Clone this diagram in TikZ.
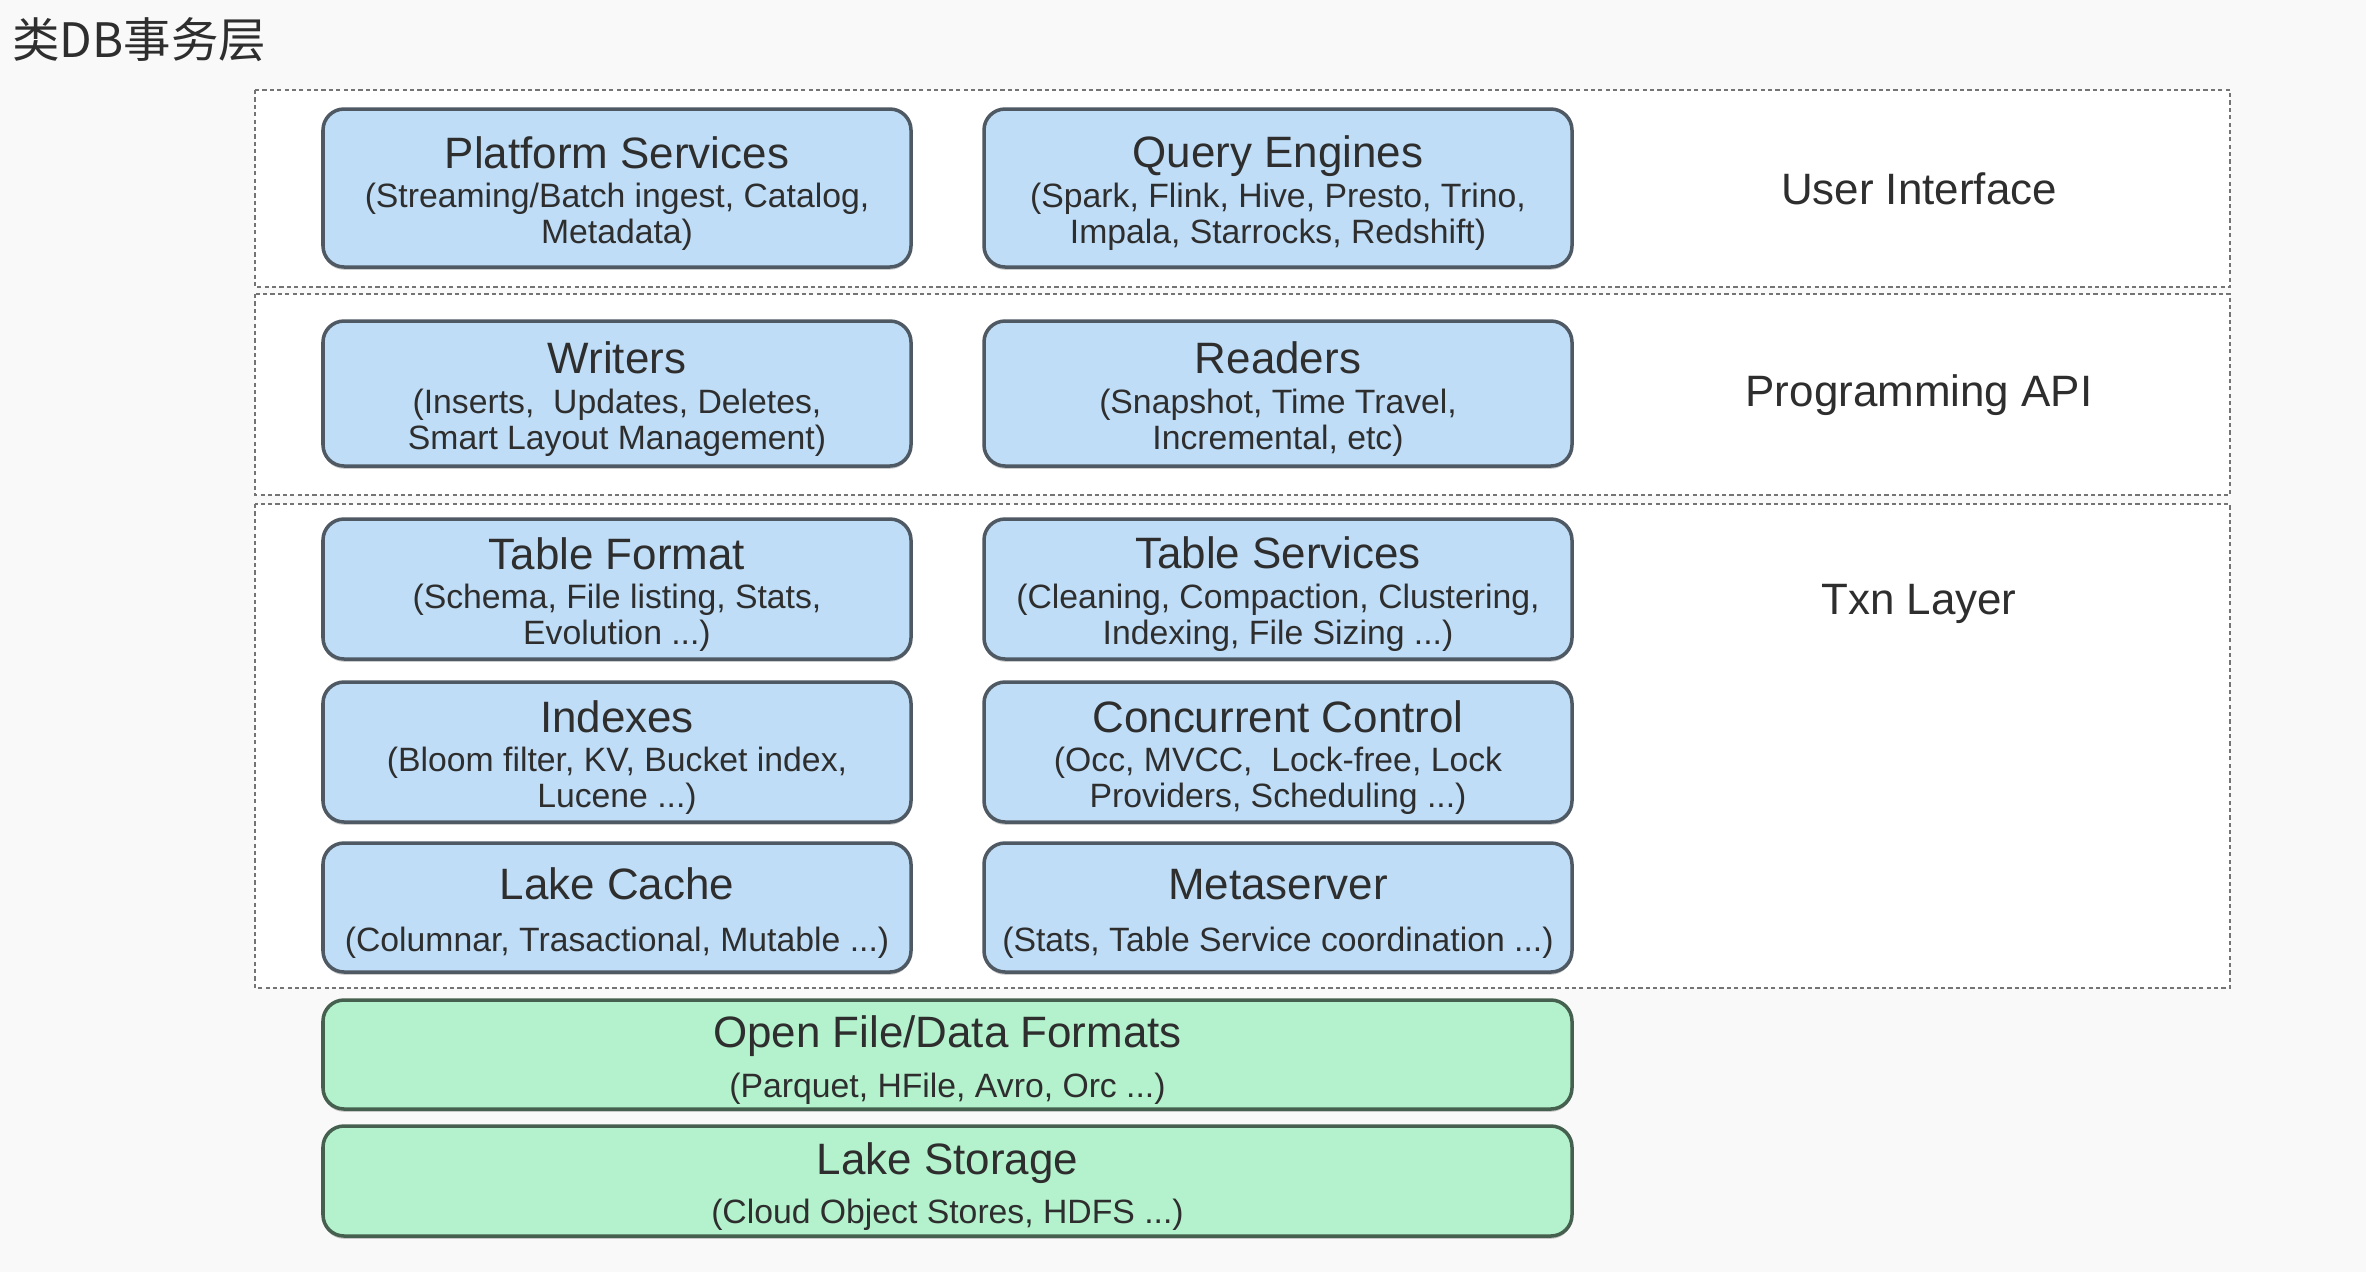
\documentclass[tikz,border=0pt]{standalone}
\usepackage{fontspec}
\setmainfont{Liberation Sans}
\newfontfamily\cjkfont{Noto Sans CJK SC}
\usetikzlibrary{positioning,shadows}
\definecolor{BoxBlue}{HTML}{BFDDF6}
\definecolor{BoxGreen}{HTML}{B3F2CD}
\definecolor{EdgeGray}{HTML}{4E5964}
\definecolor{EdgeGreen}{HTML}{46604F}
\definecolor{TextGray}{HTML}{2E2E2E}
\definecolor{FrameGray}{HTML}{747474}
\newcommand{\blktitle}{\rule{0pt}{12.2pt}\fontsize{12.5}{15}\selectfont}

\begin{document}
\begin{tikzpicture}[
        blk/.style={draw=EdgeGray, line width=1pt, fill=BoxBlue, rounded corners=6pt,
          minimum width=5.88cm, align=center, text=TextGray, inner sep=0pt,
          font=\fontsize{9.6}{10.3}\selectfont,
          drop shadow={shadow xshift=0pt, shadow yshift=-0.8pt, opacity=0.4}},
        base/.style={blk, draw=EdgeGreen, fill=BoxGreen, minimum width=12.49cm},
        frame/.style={draw=FrameGray, line width=0.6pt, dash pattern=on 1.2pt off 0.9pt, fill=white},
        layer/.style={text=TextGray, font=\fontsize{12.5}{15}\selectfont},
      ]
      \useasboundingbox (0,0) rectangle (23.66,-12.72);
      \fill[gray!5] (0,0) rectangle (23.66,-12.72);
      \node[anchor=west, text=TextGray, font=\cjkfont\fontsize{13.5}{16}\selectfont] (title) at (0.0,-0.40) {类DB事务层};

      % layer frames
      \draw[frame] (2.55,-0.90) rectangle (22.30,-2.87);
      \draw[frame] (2.55,-2.94) rectangle (22.30,-4.95);
      \draw[frame] (2.55,-5.04) rectangle (22.30,-9.88);

      % user interface
      \node[blk, minimum height=1.58cm] (plat) at (6.17,-1.88)
        {{\blktitle Platform Services}\\[1pt](Streaming/Batch ingest, Catalog,\\Metadata)};
      \node[blk, minimum height=1.58cm] (query) at (12.78,-1.88)
        {{\blktitle Query Engines}\\[1pt](Spark, Flink, Hive, Presto, Trino,\\Impala, Starrocks, Redshift)};

      % programming api
      \node[blk, minimum height=1.45cm] (writers) at (6.17,-3.935)
        {{\blktitle Writers}\\[1pt](Inserts,\ \ Updates, Deletes,\\Smart Layout Management)};
      \node[blk, minimum height=1.45cm] (readers) at (12.78,-3.935)
        {{\blktitle Readers}\\[1pt](Snapshot, Time Travel,\\Incremental, etc)};

      % txn layer
      \node[blk, minimum height=1.40cm] (tblfmt) at (6.17,-5.89)
        {{\blktitle Table Format}\\[1pt](Schema, File listing, Stats,\\Evolution ...)};
      \node[blk, minimum height=1.40cm] (tblsvc) at (12.78,-5.89)
        {{\blktitle Table Services}\\[1pt](Cleaning, Compaction, Clustering,\\Indexing, File Sizing ...)};
      \node[blk, minimum height=1.40cm] (idx) at (6.17,-7.52)
        {{\blktitle Indexes}\\[1pt](Bloom filter, KV, Bucket index,\\Lucene ...)};
      \node[blk, minimum height=1.40cm] (cc) at (12.78,-7.52)
        {{\blktitle Concurrent Control}\\[1pt](Occ, MVCC,\ \ Lock-free, Lock\\Providers, Scheduling ...)};
      \node[blk, minimum height=1.29cm] (cache) at (6.17,-9.075)
        {{\blktitle Lake Cache}\\[4.5pt](Columnar, Trasactional, Mutable ...)};
      \node[blk, minimum height=1.29cm] (meta) at (12.78,-9.075)
        {{\blktitle Metaserver}\\[4.5pt](Stats, Table Service coordination ...)};

      % storage
      \node[base, minimum height=1.09cm] (files) at (9.475,-10.545)
        {{\blktitle Open File/Data Formats}\\[3.8pt](Parquet, HFile, Avro, Orc ...)};
      \node[base, minimum height=1.10cm] (storage) at (9.475,-11.81)
        {{\blktitle Lake Storage}\\[3.8pt](Cloud Object Stores, HDFS ...)};

      % layer names
      \node[layer] (ui) at (19.19,-1.89) {User Interface};
      \node[layer] (api) at (19.19,-3.95) {Programming API};
      \node[layer] (txn) at (19.19,-6.04) {Txn Layer};
\end{tikzpicture}
\end{document}
